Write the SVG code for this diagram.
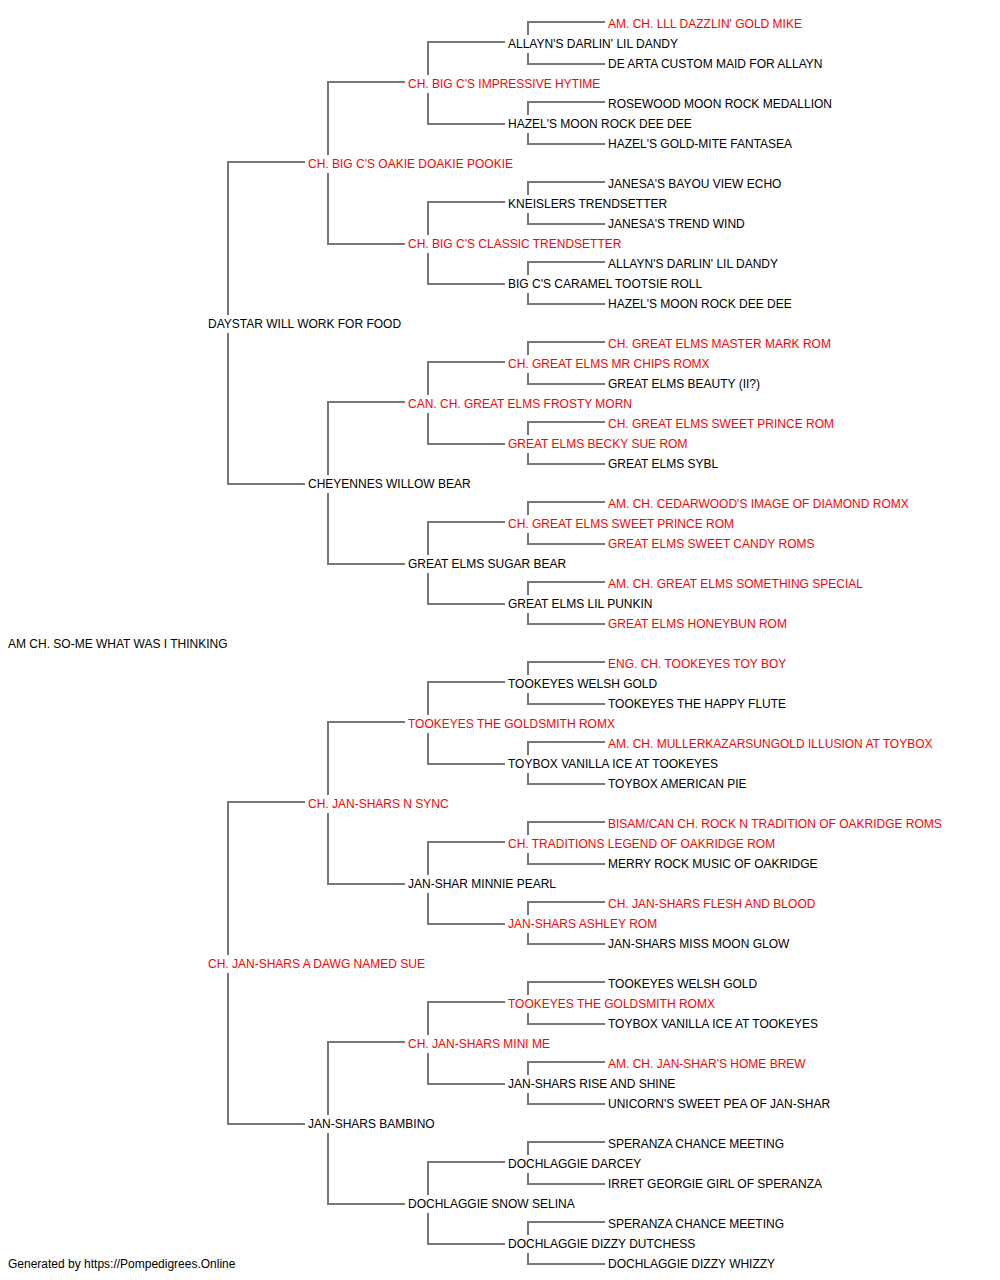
<svg xmlns="http://www.w3.org/2000/svg" width="1000" height="1280" viewBox="0 0 1000 1280">
<style>
text{font-family:"Liberation Sans",Arial,sans-serif;font-size:12px;fill:#000}
text.r{fill:#ff0000}
#connectors path{fill:none;stroke:#777;stroke-width:2}
</style>
<rect width="1000" height="1280" fill="#fff"/>
<g id="connectors">
<path d="M228 315V162H305M228 333V484H305"/>
<path d="M228 955V802H305M228 973V1124H305"/>
<path d="M328 155V82H405M328 173V244H405"/>
<path d="M328 475V402H405M328 493V564H405"/>
<path d="M328 795V722H405M328 813V884H405"/>
<path d="M328 1115V1042H405M328 1133V1204H405"/>
<path d="M428 75V42H505M428 93V124H505"/>
<path d="M428 235V202H505M428 253V284H505"/>
<path d="M428 395V362H505M428 413V444H505"/>
<path d="M428 555V522H505M428 573V604H505"/>
<path d="M428 715V682H505M428 733V764H505"/>
<path d="M428 875V842H505M428 893V924H505"/>
<path d="M428 1035V1002H505M428 1053V1084H505"/>
<path d="M428 1195V1162H505M428 1213V1244H505"/>
<path d="M528 35V22H605M528 53V64H605"/>
<path d="M528 115V102H605M528 133V144H605"/>
<path d="M528 195V182H605M528 213V224H605"/>
<path d="M528 275V262H605M528 293V304H605"/>
<path d="M528 355V342H605M528 373V384H605"/>
<path d="M528 435V422H605M528 453V464H605"/>
<path d="M528 515V502H605M528 533V544H605"/>
<path d="M528 595V582H605M528 613V624H605"/>
<path d="M528 675V662H605M528 693V704H605"/>
<path d="M528 755V742H605M528 773V784H605"/>
<path d="M528 835V822H605M528 853V864H605"/>
<path d="M528 915V902H605M528 933V944H605"/>
<path d="M528 995V982H605M528 1013V1024H605"/>
<path d="M528 1075V1062H605M528 1093V1104H605"/>
<path d="M528 1155V1142H605M528 1173V1184H605"/>
<path d="M528 1235V1222H605M528 1253V1264H605"/>
</g>
<g id="n31"><text x="8" y="648">AM CH. SO-ME WHAT WAS I THINKING</text></g>
<g id="n15"><text x="208" y="328">DAYSTAR WILL WORK FOR FOOD</text></g>
<g id="n47"><text class="r" x="208" y="968">CH. JAN-SHARS A DAWG NAMED SUE</text></g>
<g id="n7"><text class="r" x="308" y="168">CH. BIG C'S OAKIE DOAKIE POOKIE</text></g>
<g id="n23"><text x="308" y="488">CHEYENNES WILLOW BEAR</text></g>
<g id="n39"><text class="r" x="308" y="808">CH. JAN-SHARS N SYNC</text></g>
<g id="n55"><text x="308" y="1128">JAN-SHARS BAMBINO</text></g>
<g id="n3"><text class="r" x="408" y="88">CH. BIG C'S IMPRESSIVE HYTIME</text></g>
<g id="n11"><text class="r" x="408" y="248">CH. BIG C'S CLASSIC TRENDSETTER</text></g>
<g id="n19"><text class="r" x="408" y="408">CAN. CH. GREAT ELMS FROSTY MORN</text></g>
<g id="n27"><text x="408" y="568">GREAT ELMS SUGAR BEAR</text></g>
<g id="n35"><text class="r" x="408" y="728">TOOKEYES THE GOLDSMITH ROMX</text></g>
<g id="n43"><text x="408" y="888">JAN-SHAR MINNIE PEARL</text></g>
<g id="n51"><text class="r" x="408" y="1048">CH. JAN-SHARS MINI ME</text></g>
<g id="n59"><text x="408" y="1208">DOCHLAGGIE SNOW SELINA</text></g>
<g id="n1"><text x="508" y="48">ALLAYN'S DARLIN' LIL DANDY</text></g>
<g id="n5"><text x="508" y="128">HAZEL'S MOON ROCK DEE DEE</text></g>
<g id="n9"><text x="508" y="208">KNEISLERS TRENDSETTER</text></g>
<g id="n13"><text x="508" y="288">BIG C'S CARAMEL TOOTSIE ROLL</text></g>
<g id="n17"><text class="r" x="508" y="368">CH. GREAT ELMS MR CHIPS ROMX</text></g>
<g id="n21"><text class="r" x="508" y="448">GREAT ELMS BECKY SUE ROM</text></g>
<g id="n25"><text class="r" x="508" y="528">CH. GREAT ELMS SWEET PRINCE ROM</text></g>
<g id="n29"><text x="508" y="608">GREAT ELMS LIL PUNKIN</text></g>
<g id="n33"><text x="508" y="688">TOOKEYES WELSH GOLD</text></g>
<g id="n37"><text x="508" y="768">TOYBOX VANILLA ICE AT TOOKEYES</text></g>
<g id="n41"><text class="r" x="508" y="848">CH. TRADITIONS LEGEND OF OAKRIDGE ROM</text></g>
<g id="n45"><text class="r" x="508" y="928">JAN-SHARS ASHLEY ROM</text></g>
<g id="n49"><text class="r" x="508" y="1008">TOOKEYES THE GOLDSMITH ROMX</text></g>
<g id="n53"><text x="508" y="1088">JAN-SHARS RISE AND SHINE</text></g>
<g id="n57"><text x="508" y="1168">DOCHLAGGIE DARCEY</text></g>
<g id="n61"><text x="508" y="1248">DOCHLAGGIE DIZZY DUTCHESS</text></g>
<g id="n0"><text class="r" x="608" y="28">AM. CH. LLL DAZZLIN' GOLD MIKE</text></g>
<g id="n2"><text x="608" y="68">DE ARTA CUSTOM MAID FOR ALLAYN</text></g>
<g id="n4"><text x="608" y="108">ROSEWOOD MOON ROCK MEDALLION</text></g>
<g id="n6"><text x="608" y="148">HAZEL'S GOLD-MITE FANTASEA</text></g>
<g id="n8"><text x="608" y="188">JANESA'S BAYOU VIEW ECHO</text></g>
<g id="n10"><text x="608" y="228">JANESA'S TREND WIND</text></g>
<g id="n12"><text x="608" y="268">ALLAYN'S DARLIN' LIL DANDY</text></g>
<g id="n14"><text x="608" y="308">HAZEL'S MOON ROCK DEE DEE</text></g>
<g id="n16"><text class="r" x="608" y="348">CH. GREAT ELMS MASTER MARK ROM</text></g>
<g id="n18"><text x="608" y="388">GREAT ELMS BEAUTY (II?)</text></g>
<g id="n20"><text class="r" x="608" y="428">CH. GREAT ELMS SWEET PRINCE ROM</text></g>
<g id="n22"><text x="608" y="468">GREAT ELMS SYBL</text></g>
<g id="n24"><text class="r" x="608" y="508">AM. CH. CEDARWOOD'S IMAGE OF DIAMOND ROMX</text></g>
<g id="n26"><text class="r" x="608" y="548">GREAT ELMS SWEET CANDY ROMS</text></g>
<g id="n28"><text class="r" x="608" y="588">AM. CH. GREAT ELMS SOMETHING SPECIAL</text></g>
<g id="n30"><text class="r" x="608" y="628">GREAT ELMS HONEYBUN ROM</text></g>
<g id="n32"><text class="r" x="608" y="668">ENG. CH. TOOKEYES TOY BOY</text></g>
<g id="n34"><text x="608" y="708">TOOKEYES THE HAPPY FLUTE</text></g>
<g id="n36"><text class="r" x="608" y="748">AM. CH. MULLERKAZARSUNGOLD ILLUSION AT TOYBOX</text></g>
<g id="n38"><text x="608" y="788">TOYBOX AMERICAN PIE</text></g>
<g id="n40"><text class="r" x="608" y="828">BISAM/CAN CH. ROCK N TRADITION OF OAKRIDGE ROMS</text></g>
<g id="n42"><text x="608" y="868">MERRY ROCK MUSIC OF OAKRIDGE</text></g>
<g id="n44"><text class="r" x="608" y="908">CH. JAN-SHARS FLESH AND BLOOD</text></g>
<g id="n46"><text x="608" y="948">JAN-SHARS MISS MOON GLOW</text></g>
<g id="n48"><text x="608" y="988">TOOKEYES WELSH GOLD</text></g>
<g id="n50"><text x="608" y="1028">TOYBOX VANILLA ICE AT TOOKEYES</text></g>
<g id="n52"><text class="r" x="608" y="1068">AM. CH. JAN-SHAR'S HOME BREW</text></g>
<g id="n54"><text x="608" y="1108">UNICORN'S SWEET PEA OF JAN-SHAR</text></g>
<g id="n56"><text x="608" y="1148">SPERANZA CHANCE MEETING</text></g>
<g id="n58"><text x="608" y="1188">IRRET GEORGIE GIRL OF SPERANZA</text></g>
<g id="n60"><text x="608" y="1228">SPERANZA CHANCE MEETING</text></g>
<g id="n62"><text x="608" y="1268">DOCHLAGGIE DIZZY WHIZZY</text></g>
<g id="footer"><text x="8" y="1268">Generated by https://Pompedigrees.Online</text></g>
</svg>
